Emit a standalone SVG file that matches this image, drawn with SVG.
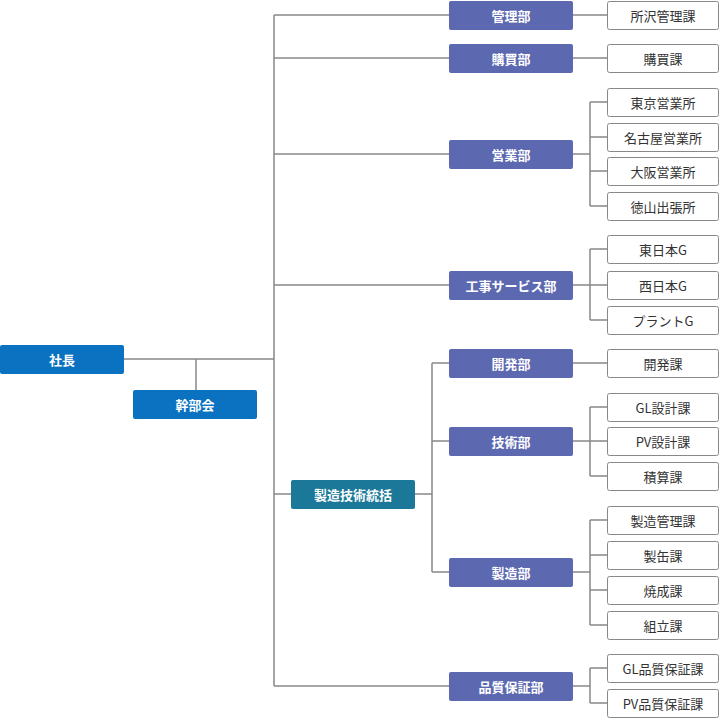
<svg xmlns="http://www.w3.org/2000/svg" width="720" height="720" viewBox="0 0 720 720">
<style>
text{font-family:"Noto Sans CJK JP","Noto Sans",sans-serif;font-size:13px;text-anchor:middle;dominant-baseline:central}
.top rect{fill:#0b72c1}.dep rect{fill:#5c68b0}.tec rect{fill:#1b7898}
.top text,.dep text,.tec text{fill:#fff;font-weight:bold}
.sub rect{fill:#fff;stroke:#888;stroke-width:1}.sub text{fill:#333}
#conn path{fill:none;stroke:#888;stroke-width:1.5}
</style>
<rect width="720" height="720" fill="#fff"/>
<g id="conn"><path d="M124 359H274M196 359V390M274 15V686M274 15H449M274 58H449M274 154H449M274 285H449M274 494H291M274 686H449M415 494H432M432 363V572M432 363H449M432 441H449M432 572H449M573 15H607M573 58H607M573 154H590M590 102V206M590 102H607M590 137H607M590 171H607M590 206H607M573 285H590M590 249V320M590 249H607M590 285H607M590 320H607M573 363H607M573 441H590M590 407V476M590 407H607M590 441H607M590 476H607M573 572H590M590 520V625M590 520H607M590 555H607M590 590H607M590 625H607M573 686H590M590 668V703M590 668H607M590 703H607"/></g>
<g id="n-shacho" class="top"><rect x="0" y="345" width="124" height="29" rx="2"/><text x="62" y="359.5">社長</text></g>
<g id="n-kanbu" class="top"><rect x="133" y="390" width="124" height="29" rx="2"/><text x="195" y="404.5">幹部会</text></g>
<g id="n-seizogijutsu" class="tec"><rect x="291" y="480" width="124" height="29" rx="2"/><text x="353" y="494.5">製造技術統括</text></g>
<g id="n-kanri" class="dep"><rect x="449" y="1" width="124" height="29" rx="2"/><text x="511" y="15.5">管理部</text></g>
<g id="n-kobai" class="dep"><rect x="449" y="44" width="124" height="29" rx="2"/><text x="511" y="58.5">購買部</text></g>
<g id="n-eigyo" class="dep"><rect x="449" y="140" width="124" height="29" rx="2"/><text x="511" y="154.5">営業部</text></g>
<g id="n-koji" class="dep"><rect x="449" y="271" width="124" height="29" rx="2"/><text x="511" y="285.5">工事サービス部</text></g>
<g id="n-kaihatsu" class="dep"><rect x="449" y="349" width="124" height="29" rx="2"/><text x="511" y="363.5">開発部</text></g>
<g id="n-gijutsu" class="dep"><rect x="449" y="427" width="124" height="29" rx="2"/><text x="511" y="441.5">技術部</text></g>
<g id="n-seizo" class="dep"><rect x="449" y="558" width="124" height="29" rx="2"/><text x="511" y="572.5">製造部</text></g>
<g id="n-hinshitsu" class="dep"><rect x="449" y="672" width="124" height="29" rx="2"/><text x="511" y="686.5">品質保証部</text></g>
<g id="s1" class="sub"><rect x="607.5" y="1.5" width="111" height="28" rx="2"/><text x="663" y="15.5">所沢管理課</text></g>
<g id="s2" class="sub"><rect x="607.5" y="44.5" width="111" height="28" rx="2"/><text x="663" y="58.5">購買課</text></g>
<g id="s3" class="sub"><rect x="607.5" y="88.5" width="111" height="28" rx="2"/><text x="663" y="102.5">東京営業所</text></g>
<g id="s4" class="sub"><rect x="607.5" y="123.5" width="111" height="28" rx="2"/><text x="663" y="137.5">名古屋営業所</text></g>
<g id="s5" class="sub"><rect x="607.5" y="157.5" width="111" height="28" rx="2"/><text x="663" y="171.5">大阪営業所</text></g>
<g id="s6" class="sub"><rect x="607.5" y="192.5" width="111" height="28" rx="2"/><text x="663" y="206.5">徳山出張所</text></g>
<g id="s7" class="sub"><rect x="607.5" y="235.5" width="111" height="28" rx="2"/><text x="663" y="249.5">東日本G</text></g>
<g id="s8" class="sub"><rect x="607.5" y="271.5" width="111" height="28" rx="2"/><text x="663" y="285.5">西日本G</text></g>
<g id="s9" class="sub"><rect x="607.5" y="306.5" width="111" height="28" rx="2"/><text x="663" y="320.5">プラントG</text></g>
<g id="s10" class="sub"><rect x="607.5" y="349.5" width="111" height="28" rx="2"/><text x="663" y="363.5">開発課</text></g>
<g id="s11" class="sub"><rect x="607.5" y="393.5" width="111" height="28" rx="2"/><text x="663" y="407.5">GL設計課</text></g>
<g id="s12" class="sub"><rect x="607.5" y="427.5" width="111" height="28" rx="2"/><text x="663" y="441.5">PV設計課</text></g>
<g id="s13" class="sub"><rect x="607.5" y="462.5" width="111" height="28" rx="2"/><text x="663" y="476.5">積算課</text></g>
<g id="s14" class="sub"><rect x="607.5" y="506.5" width="111" height="28" rx="2"/><text x="663" y="520.5">製造管理課</text></g>
<g id="s15" class="sub"><rect x="607.5" y="541.5" width="111" height="28" rx="2"/><text x="663" y="555.5">製缶課</text></g>
<g id="s16" class="sub"><rect x="607.5" y="576.5" width="111" height="28" rx="2"/><text x="663" y="590.5">焼成課</text></g>
<g id="s17" class="sub"><rect x="607.5" y="611.5" width="111" height="28" rx="2"/><text x="663" y="625.5">組立課</text></g>
<g id="s18" class="sub"><rect x="607.5" y="654.5" width="111" height="28" rx="2"/><text x="663" y="668.5">GL品質保証課</text></g>
<g id="s19" class="sub"><rect x="607.5" y="689.5" width="111" height="28" rx="2"/><text x="663" y="703.5">PV品質保証課</text></g>
</svg>
